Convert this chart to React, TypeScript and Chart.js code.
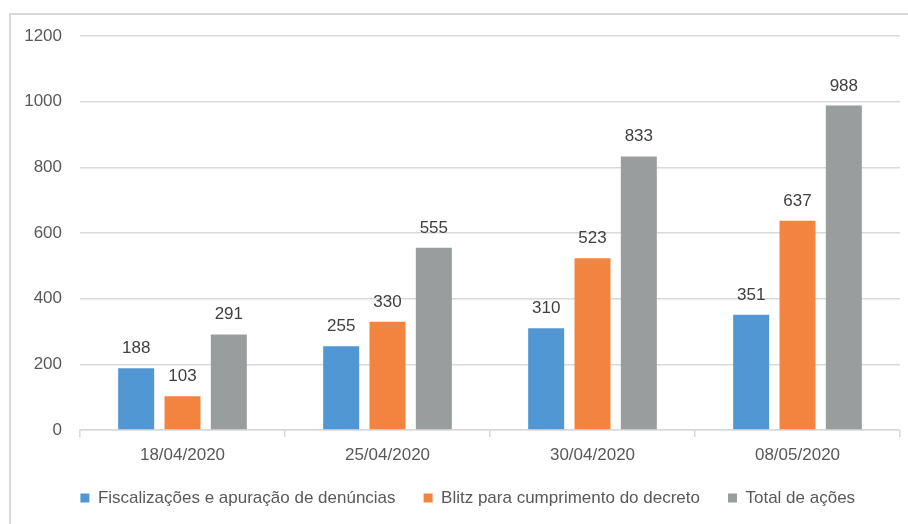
import React, { useEffect, useRef } from "react";
import { Chart, registerables } from "chart.js";

Chart.register(...registerables);

const categories = ["18/04/2020", "25/04/2020", "30/04/2020", "08/05/2020"];
const seriesNames = [
  "Fiscalizações e apuração de denúncias",
  "Blitz para cumprimento do decreto",
  "Total de ações",
];
const fiscalizacoes = [188, 255, 310, 351];
const blitz = [103, 330, 523, 637];
const totalAcoes = [291, 555, 833, 988];
const yMin = 0;
const yMax = 1200;
const yStep = 200;

const colors = ["#5097D3", "#F3843F", "#9A9D9D"];
const FONT = "'Liberation Sans', Arial, sans-serif";

const dataLabels = {
  id: "dataLabels",
  afterDatasetsDraw(chart: any) {
    const ctx = chart.ctx;
    ctx.save();
    ctx.font = `17px ${FONT}`;
    ctx.fillStyle = "#404040";
    ctx.textAlign = "center";
    ctx.textBaseline = "alphabetic";
    chart.data.datasets.forEach((ds: any, i: number) => {
      const meta = chart.getDatasetMeta(i);
      meta.data.forEach((el: any, j: number) => {
        ctx.fillText(String(ds.data[j]), el.x, el.y - 15);
      });
    });
    ctx.restore();
  },
};

const legendPlace = {
  id: "legendPlace",
  afterLayout(chart: any) {
    const lg = chart.legend;
    if (lg) {
      lg.left += 12.75;
      lg.right += 12.75;
      const h = lg.bottom - lg.top;
      lg.top = 461.5;
      lg.bottom = lg.top + h;
    }
  },
};

export default function App() {
  const ref = useRef<HTMLCanvasElement>(null);
  useEffect(() => {
    if (!ref.current) return;
    const chart = new Chart(ref.current, {
      type: "bar",
      data: {
        labels: categories,
        datasets: [
          { label: seriesNames[0], data: fiscalizacoes, backgroundColor: colors[0] },
          { label: seriesNames[1], data: blitz, backgroundColor: colors[1] },
          { label: seriesNames[2], data: totalAcoes, backgroundColor: colors[2] },
        ],
      },
      options: {
        responsive: false,
        animation: false,
        datasets: { bar: { categoryPercentage: 0.678, barPercentage: 0.777 } },
        layout: { padding: { top: 36, left: 10, right: 8, bottom: 4 } },
        plugins: {
          tooltip: { enabled: false },
          legend: {
            position: "bottom",
            maxHeight: 50,
            labels: {
              boxWidth: 9,
              boxHeight: 9,
              padding: 28,
              color: "#595959",
              font: { family: FONT, size: 17 },
            },
          },
        },
        scales: {
          x: {
            afterFit(scale: any) {
              scale.height = 40;
            },
            grid: {
              drawOnChartArea: false,
              drawTicks: true,
              tickLength: 7,
              color: "#d9d9d9",
              lineWidth: 1.5,
              offset: true,
            },
            border: { display: true, color: "#d9d9d9", width: 1.5 },
            ticks: { padding: 8, color: "#595959", font: { family: FONT, size: 17 } },
          },
          y: {
            min: yMin,
            max: yMax,
            afterFit(scale: any) {
              scale.width = 70;
            },
            ticks: {
              stepSize: yStep,
              padding: 18,
              color: "#595959",
              font: { family: FONT, size: 17 },
              callback: (v: any) => String(v),
            },
            grid: { drawTicks: false, color: "#d9d9d9", lineWidth: 1.5 },
            border: { display: false },
          },
        },
      },
      plugins: [dataLabels, legendPlace],
    });
    return () => chart.destroy();
  }, []);

  return (
    <div
      style={{
        position: "fixed",
        left: 0,
        top: 0,
        width: 908,
        height: 524,
        overflow: "hidden",
        background: "#fff",
      }}
    >
      <canvas ref={ref} width={908} height={524} style={{ position: "absolute", left: 0, top: 0 }} />
      <div
        style={{
          position: "absolute",
          left: 9,
          top: 13,
          width: 910,
          height: 530,
          border: "2px solid #d9d9d9",
          boxSizing: "border-box",
          pointerEvents: "none",
        }}
      />
    </div>
  );
}
